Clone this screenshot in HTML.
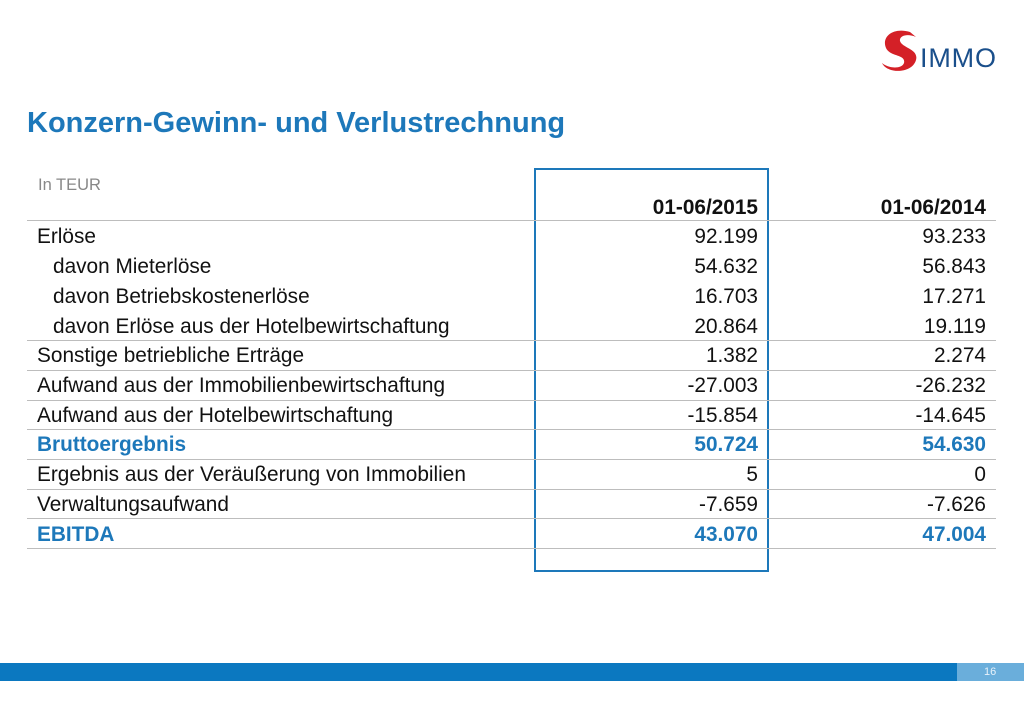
<!DOCTYPE html>
<html><head><style>
body{margin:0;width:1024px;height:709px;background:#fff;position:relative;overflow:hidden;font-family:"Liberation Sans",Arial,sans-serif}
.a{position:absolute}
.t{font-size:20.8px;color:#111;white-space:nowrap;line-height:22px}
.r{text-align:right;width:200px}
.line{position:absolute;left:27px;width:969px;height:1px;background:#bdbdbd}
.b{color:#1d78ba;font-weight:bold}
</style></head><body>
<div class="a" style="left:27px;top:107px;font-size:29px;font-weight:bold;color:#1d78ba;white-space:nowrap">Konzern-Gewinn- und Verlustrechnung</div>
<svg class="a" style="left:878px;top:26px" width="124" height="48">
<path d="M32 6 C16 1 3 10 8 22 C12 31 28 28 26 37 C24 43 11 43 4 37 C9 48 34 48 38 34 C41 23 24 22 22 15 C21 10 29 7 38 11 Z" fill="#d42027"/>
<text x="42" y="41" font-family="Liberation Sans" font-size="27" fill="#1a4f8b" textLength="76">IMMO</text>
</svg>
<div class="a t" style="left:38px;top:174px;font-size:16.5px;color:#888">In TEUR</div>
<div class="a" style="left:534px;top:168px;width:231px;height:400px;border:2px solid #1d78ba"></div>
<div class="a t r" style="left:558px;top:197px;font-weight:bold">01-06/2015</div>
<div class="a t r" style="left:786px;top:197px;font-weight:bold">01-06/2014</div>
<div class="line" style="top:220px"></div>
<div class="line" style="top:340px"></div>
<div class="line" style="top:370px"></div>
<div class="line" style="top:400px"></div>
<div class="line" style="top:429px"></div>
<div class="line" style="top:459px"></div>
<div class="line" style="top:489px"></div>
<div class="line" style="top:518px"></div>
<div class="line" style="top:548px"></div>

<div class="a t" style="left:37px;top:226px">Erlöse</div><div class="a t r" style="left:558px;top:226px">92.199</div><div class="a t r" style="left:786px;top:226px">93.233</div>
<div class="a t" style="left:53px;top:256px">davon Mieterlöse</div><div class="a t r" style="left:558px;top:256px">54.632</div><div class="a t r" style="left:786px;top:256px">56.843</div>
<div class="a t" style="left:53px;top:286px">davon Betriebskostenerlöse</div><div class="a t r" style="left:558px;top:286px">16.703</div><div class="a t r" style="left:786px;top:286px">17.271</div>
<div class="a t" style="left:53px;top:316px">davon Erlöse aus der Hotelbewirtschaftung</div><div class="a t r" style="left:558px;top:316px">20.864</div><div class="a t r" style="left:786px;top:316px">19.119</div>
<div class="a t" style="left:37px;top:345px">Sonstige betriebliche Erträge</div><div class="a t r" style="left:558px;top:345px">1.382</div><div class="a t r" style="left:786px;top:345px">2.274</div>
<div class="a t" style="left:37px;top:375px">Aufwand aus der Immobilienbewirtschaftung</div><div class="a t r" style="left:558px;top:375px">-27.003</div><div class="a t r" style="left:786px;top:375px">-26.232</div>
<div class="a t" style="left:37px;top:405px">Aufwand aus der Hotelbewirtschaftung</div><div class="a t r" style="left:558px;top:405px">-15.854</div><div class="a t r" style="left:786px;top:405px">-14.645</div>
<div class="a t b" style="left:37px;top:434px">Bruttoergebnis</div><div class="a t r b" style="left:558px;top:434px">50.724</div><div class="a t r b" style="left:786px;top:434px">54.630</div>
<div class="a t" style="left:37px;top:464px">Ergebnis aus der Veräußerung von Immobilien</div><div class="a t r" style="left:558px;top:464px">5</div><div class="a t r" style="left:786px;top:464px">0</div>
<div class="a t" style="left:37px;top:494px">Verwaltungsaufwand</div><div class="a t r" style="left:558px;top:494px">-7.659</div><div class="a t r" style="left:786px;top:494px">-7.626</div>
<div class="a t b" style="left:37px;top:524px">EBITDA</div><div class="a t r b" style="left:558px;top:524px">43.070</div><div class="a t r b" style="left:786px;top:524px">47.004</div>

<div class="a" style="left:0;top:663px;width:957px;height:18px;background:#0b78c0"></div>
<div class="a" style="left:957px;top:663px;width:67px;height:18px;background:#6aaedb"></div>
<div class="a" style="left:984px;top:666px;font-size:11px;color:#e8f2fa">16</div>
</body></html>
